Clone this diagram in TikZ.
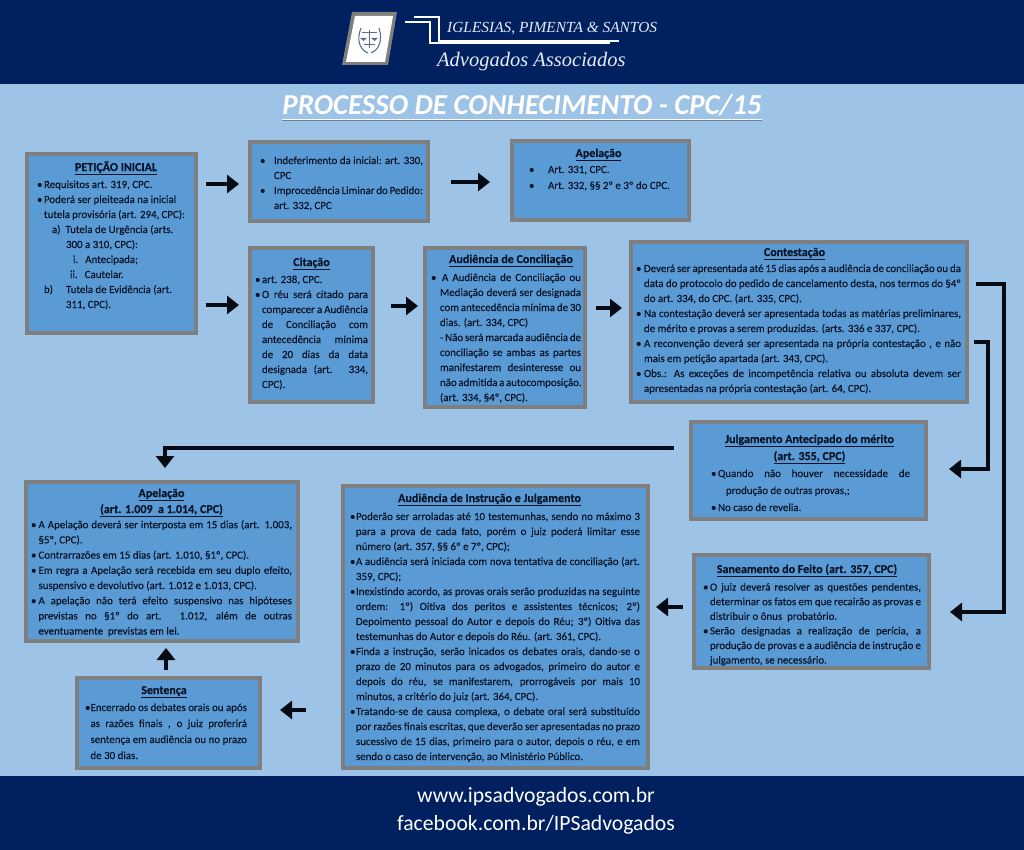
\documentclass[tikz,border=0pt]{standalone}
\usepackage{fontspec}
\usetikzlibrary{arrows.meta}
\setmainfont{Carlito}
\newfontfamily\logoserif{Liberation Serif}
\definecolor{pagebg}{HTML}{9DC3E6}
\definecolor{banner}{HTML}{002060}
\definecolor{panelfill}{HTML}{5B9BD5}
\definecolor{panelline}{HTML}{7F7F7F}
\definecolor{inktext}{HTML}{071326}
\definecolor{arrowink}{HTML}{060A12}
\definecolor{emblem}{HTML}{5A6F96}
\definecolor{logotext}{HTML}{E6ECF5}
\definecolor{titleshade}{HTML}{6F7F95}
\tikzset{
  panel/.style={draw=panelline,fill=panelfill,line width=4pt,inner sep=0pt,outer sep=0pt,text=inktext,font=\fontsize{10.9}{15}\selectfont\addfontfeature{FakeBold=0.25}},
  flow/.style={draw=arrowink,line width=3.5pt,-{Triangle[length=12pt,width=18pt]}},
  footertext/.style={text=white,font=\fontsize{21.7}{25}\selectfont,inner sep=0pt},
  logoline/.style={draw=white,line width=1.4pt},
}
\newcommand\Lline[2]{\hbox to \hsize{\rule{0pt}{11pt}\hskip #1pt #2\hfil}}
\newcommand\Jline[2]{\hbox to \hsize{\rule{0pt}{11pt}\hskip #1pt #2}}
\newcommand\Btitle[2][0]{\hbox to \hsize{\rule{0pt}{11pt}\hss\hskip #1pt\bfseries\fontsize{12}{15}\selectfont\underline{#2}\hskip -#1pt\hss}}
\newcommand\blt[1]{\hbox to #1pt{\textbullet\hss}}
\newcommand\bx[9]{%
  \pgfmathsetmacro\bw{#4-#2-4}\pgfmathsetmacro\bh{#5-#3-4}%
  \pgfmathsetmacro\ltx{#6-#2-2}\pgfmathsetmacro\tw{#7-#6}\pgfmathsetmacro\tp{#8-#3-2-11}%
  \node[panel,minimum width=\bw pt,minimum height=\bh pt] (#1) at ({(#2+#4)/2},{(#3+#5)/2})
   {\vbox to \bh pt{\vskip\tp pt\hbox to \bw pt{\hskip\ltx pt\vtop{\hsize=\tw pt \baselineskip=15pt \lineskiplimit=-20pt #9}\hss}\vss}};}
\begin{document}
\begin{tikzpicture}[x=1pt,y=-1pt]
\useasboundingbox (0,0) rectangle (1024,850);
\fill[pagebg] (0,0) rectangle (1024,850);
\fill[banner] (0,0) rectangle (1024,84);
\fill[banner] (0,776) rectangle (1024,850);
% logo
\fill[panelline] (352,12) -- (397,12) -- (388,65) -- (342,65) -- cycle;
\fill[white] (355,16) -- (393,16) -- (385,62) -- (346,62) -- cycle;
\draw[emblem,line width=1.1pt] (361,28) .. controls (356,40) and (360,50) .. (368,53);
\draw[emblem,line width=1.1pt] (379,28) .. controls (383,40) and (379,50) .. (371,53);
\draw[emblem,line width=1pt] (369,30) -- (369,48) (362,33) -- (377,33) (364,45) -- (375,45);
\fill[emblem] (360,38) -- (367,38) -- (363.5,41) -- cycle (371,38) -- (378,38) -- (374.5,41) -- cycle;
\draw[logoline] (405,22) -- (430,22) -- (430,43) -- (610,43);
\draw[logoline] (414,17) -- (439,17) -- (439,41) -- (619,41);
\node[text=logotext,inner sep=0pt,anchor=base west] (firm) at (447,33) {\logoserif\itshape\fontsize{15.4}{16}\selectfont IGLESIAS, PIMENTA \& SANTOS};
\node[text=logotext,inner sep=0pt,anchor=base west] (assoc) at (437,67) {\logoserif\itshape\fontsize{20.5}{24}\selectfont Advogados Associados};
% title
\node[text=white,inner sep=0pt,anchor=base,font=\fontsize{28.9}{30}\selectfont\bfseries\itshape] (title) at (522,115) {PROCESSO DE CONHECIMENTO - CPC/15};
\draw[titleshade,line width=1.4pt] ([yshift=-5.8pt]title.base west) -- ([yshift=-5.8pt]title.base east);
\draw[white,line width=1.6pt] ([yshift=-4.4pt]title.base west) -- ([yshift=-4.4pt]title.base east);
% footer
\node[footertext] (web) at (536,797) {www.ipsadvogados.com.br};
\node[footertext] (face) at (536,825) {facebook.com.br/IPSadvogados};
% panels
\bx{pet}{25}{152}{198}{335}{37}{185}{171}{%
 \Btitle[5]{PETIÇÃO INICIAL}\vskip 2pt
 \Lline{0}{\blt{7}Requisitos art. 319, CPC.}
 \Lline{0}{\blt{7}Poderá ser pleiteada na inicial}
 \Lline{7}{tutela provisória (art. 294, CPC):}
 \Lline{15}{a)\hskip 5pt Tutela de Urgência (arts.}
 \Lline{29}{300 a 310, CPC):}
 \Lline{36}{i.\hskip 7pt Antecipada;}
 \Lline{33}{ii.\hskip 7pt Cautelar.}
 \Lline{7}{b)\hskip 13pt Tutela de Evidência (art.}
 \Lline{29}{311, CPC).}
}
\bx{indef}{248}{140}{430}{223}{260}{423}{164}{%
 \Jline{0}{\blt{14}Indeferimento da inicial: art. 330,}
 \Lline{14}{CPC}
 \Lline{0}{\blt{14}Improcedência Liminar do Pedido:}
 \Lline{14}{art. 332, CPC}
}
\bx{apel}{510}{139}{691}{222}{529}{680}{157}{%
 \baselineskip=16pt
 \hbox to \hsize{\rule{0pt}{11pt}\hskip -19pt\hbox to 181pt{\hss\hskip -4pt\bfseries\fontsize{12}{15}\selectfont\underline{Apelação}\hss}\hss}
 \Lline{0}{\blt{19}Art. 331, CPC.}
 \Lline{0}{\blt{19}Art. 332, §§ 2º e 3º do CPC.}
}
\bx{cit}{248}{246}{375}{404}{255}{368}{266}{%
 \Btitle[0]{Citação}\vskip 2pt
 \Lline{0}{\blt{7}art. 238, CPC.}
 \Jline{0}{\blt{7}O réu será citado para}
 \Jline{7}{comparecer a Audiência}
 \Jline{7}{de Conciliação com}
 \Jline{7}{antecedência mínima}
 \Jline{7}{de 20 dias da data}
 \Jline{7}{designada (art. 334,}
 \Lline{7}{CPC).}
}
\bx{aud}{423}{246}{587}{409}{431}{581}{263}{%
 \Btitle[5]{Audiência de Conciliação}\vskip 3pt
 \Jline{0}{\blt{11}A Audiência de Conciliação ou}
 \Jline{9}{Mediação deverá ser designada}
 \Jline{9}{com antecedência mínima de 30}
 \Lline{9}{dias. (art. 334, CPC)}
 \Jline{9}{- Não será marcada audiência de}
 \Jline{9}{conciliação se ambas as partes}
 \Jline{9}{manifestarem desinteresse ou}
 \Jline{9}{não admitida a autocomposição.}
 \Lline{9}{(art. 334, §4º, CPC).}
}
\bx{cont}{629}{240}{969}{404}{636}{961}{256}{%
 \Btitle[-4]{Contestação}\vskip 1pt
 \Jline{0}{\blt{8}Deverá ser apresentada até 15 dias após a audiência de conciliação ou da}
 \Jline{8}{data do protocolo do pedido de cancelamento desta, nos termos do §4º}
 \Lline{8}{do art. 334, do CPC. (art. 335, CPC).}
 \Jline{0}{\blt{8}Na contestação deverá ser apresentada todas as matérias preliminares,}
 \Lline{8}{de mérito e provas a serem produzidas. (arts. 336 e 337, CPC).}
 \Jline{0}{\blt{8}A reconvenção deverá ser apresentada na própria contestação , e não}
 \Lline{8}{mais em petição apartada (art. 343, CPC).}
 \Jline{0}{\blt{8}Obs.: As exceções de incompetência relativa ou absoluta devem ser}
 \Lline{8}{apresentadas na própria contestação (art. 64, CPC).}
}
\bx{julg}{689}{420}{928}{521}{711}{910}{443}{%
 \baselineskip=17pt
 \Btitle[-1]{Julgamento Antecipado do mérito}
 \Btitle[-1]{(art. 355, CPC)}
 \Jline{0}{\blt{7}Quando não houver necessidade de}
 \Lline{15}{produção de outras provas,;}
 \Lline{0}{\blt{7}No caso de revelia.}
}
\bx{sane}{692}{553}{931}{670}{703}{921}{573}{%
 \baselineskip=14.6pt
 \Btitle[-5]{Saneamento do Feito (art. 357, CPC)}\vskip 3pt
 \Jline{0}{\blt{7}O juiz deverá resolver as questões pendentes,}
 \Jline{7}{determinar os fatos em que recairão as provas e}
 \Lline{7}{distribuir o ônus\ \ probatório.}
 \Jline{0}{\blt{7}Serão designadas a realização de perícia, a}
 \Jline{7}{produção de provas e a audiência de instrução e}
 \Lline{7}{julgamento, se necessário.}
}
\bx{apel2}{24}{480}{300}{643}{31}{292}{497}{%
 \baselineskip=16pt
 \Btitle[0]{Apelação}
 \Btitle[0]{(art. 1.009\ \ a 1.014, CPC)}
 \baselineskip=15.2pt
 \Jline{0}{\blt{7.5}A Apelação deverá ser interposta em 15 dias (art. 1.003,}
 \Lline{7.5}{§5º, CPC).}
 \Lline{0}{\blt{7.5}Contrarrazões em 15 dias (art. 1.010, §1º, CPC).}
 \Jline{0}{\blt{7.5}Em regra a Apelação será recebida em seu duplo efeito,}
 \Lline{7.5}{suspensivo e devolutivo (art. 1.012 e 1.013, CPC).}
 \Jline{0}{\blt{7.5}A apelação não terá efeito suspensivo nas hipóteses}
 \Jline{7.5}{previstas no §1º do art. 1.012, além de outras}
 \Lline{7.5}{eventuamente\ \ previstas em lei.}
}
\bx{aij}{341}{484}{650}{770}{350}{640}{502}{%
 \Btitle[-5.5]{Audiência de Instrução e Julgamento}\vskip 3pt
 \Jline{0}{\blt{6}Poderão ser arroladas até 10 testemunhas, sendo no máximo 3}
 \Jline{6}{para a prova de cada fato, porém o juiz poderá limitar esse}
 \Lline{6}{número (art. 357, §§ 6º e 7º, CPC);}
 \Jline{0}{\blt{6}A audiência será iniciada com nova tentativa de conciliação (art.}
 \Lline{6}{359, CPC);}
 \Jline{0}{\blt{6}Inexistindo acordo, as provas orais serão produzidas na seguinte}
 \Jline{6}{ordem: 1º) Oitiva dos peritos e assistentes técnicos; 2º)}
 \Jline{6}{Depoimento pessoal do Autor e depois do Réu; 3º) Oitiva das}
 \Lline{6}{testemunhas do Autor e depois do Réu. (art. 361, CPC).}
 \Jline{0}{\blt{6}Finda a instrução, serão inicados os debates orais, dando-se o}
 \Jline{6}{prazo de 20 minutos para os advogados, primeiro do autor e}
 \Jline{6}{depois do réu, se manifestarem, prorrogáveis por mais 10}
 \Lline{6}{minutos, a critério do juiz (art. 364, CPC).}
 \Jline{0}{\blt{6}Tratando-se de causa complexa, o debate oral será substituído}
 \Jline{6}{por razões finais escritas, que deverão ser apresentadas no prazo}
 \Jline{6}{sucessivo de 15 dias, primeiro para o autor, depois o réu, e em}
 \Lline{6}{sendo o caso de intervenção, ao Ministério Público.}
}
\bx{sent}{75}{676}{262}{770}{85}{247}{694}{%
 \baselineskip=16pt
 \Btitle[-2]{Sentença}\vskip 1pt
 \Jline{0}{\blt{5.5}Encerrado os debates orais ou após}
 \Jline{5.5}{as razões finais , o juiz proferirá}
 \Jline{5.5}{sentença em audiência ou no prazo}
 \Lline{5.5}{de 30 dias.}
}
% connector ends
\coordinate (p1) at (206,184); \coordinate (q1) at (239,184);
\coordinate (p2) at (206,305); \coordinate (q2) at (239,305);
\coordinate (p3) at (451,182); \coordinate (q3) at (490,182);
\coordinate (p4) at (391,306); \coordinate (q4) at (418,306);
\coordinate (p5) at (596,308); \coordinate (q5) at (622,308);
\coordinate (p6) at (976,284); \coordinate (m6a) at (1004,284); \coordinate (m6b) at (1004,612); \coordinate (q6) at (950,612);
\coordinate (p7) at (974,342); \coordinate (m7a) at (988,342); \coordinate (m7b) at (988,469); \coordinate (q7) at (949,469);
\coordinate (p8) at (674,448); \coordinate (m8) at (165,448); \coordinate (q8) at (165,468);
\coordinate (p9) at (683,607); \coordinate (q9) at (656,607);
\coordinate (p10) at (306,710); \coordinate (q10) at (280,710);
\coordinate (p11) at (166,670); \coordinate (q11) at (166,648);
\draw[flow] (p1) -- (q1);
\draw[flow] (p2) -- (q2);
\draw[flow] (p3) -- (q3);
\draw[flow] (p4) -- (q4);
\draw[flow] (p5) -- (q5);
\draw[flow] (p6) -- (m6a) -- (m6b) -- (q6);
\draw[flow] (p7) -- (m7a) -- (m7b) -- (q7);
\draw[flow] (p8) -- (m8) -- (q8);
\draw[flow] (p9) -- (q9);
\draw[flow] (p10) -- (q10);
\draw[flow] (p11) -- (q11);
\end{tikzpicture}
\end{document}
